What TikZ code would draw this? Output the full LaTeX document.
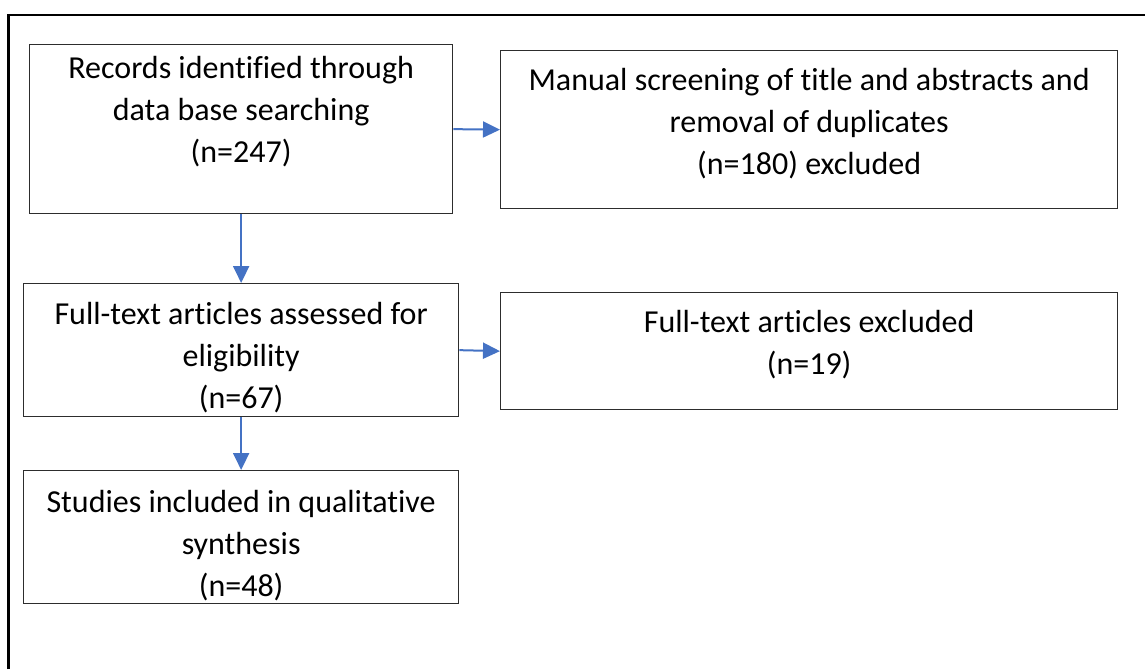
\documentclass[tikz,border=0pt]{standalone}
\usepackage{fontspec}
\setmainfont{Carlito}[Ligatures=NoCommon]
\usetikzlibrary{arrows.meta,positioning}
\definecolor{flowblue}{RGB}{68,114,196}
\definecolor{boxgray}{RGB}{45,45,45}
\tikzset{
  % outer frame
  frame/.style={line width=2.4pt, black},
  % box outline
  box/.style={
    draw=boxgray,
    line width=1.3pt,
    inner sep=0pt,
    anchor=north west
  },
  % text inside a box
  txt/.style={align=center, inner sep=0pt, font=\fontsize{32}{42}\selectfont},
  % connector
  arr/.style={-{Triangle[length=17pt,width=16pt]}, line width=2pt, flowblue},
}

\begin{document}
\begin{tikzpicture}[x=1pt, y=1pt]
    \useasboundingbox (0,0) rectangle (1145,-669);
    \draw[frame] (8.5,-669) |- (1145,-15);

    % left column
    \node[box, minimum width=423pt, minimum height=169pt] (records) at (29,-44) {};
    \node[box, minimum width=435pt, minimum height=133pt] (fulltext) at (23,-283) {};
    \node[box, minimum width=435pt, minimum height=133pt] (studies) at (23,-470) {};

    % right column
    \node[box, minimum width=617pt, minimum height=158pt] (screening) at (500,-50) {};
    \node[box, minimum width=617pt, minimum height=117pt] (excluded) at (500,-292) {};

    % texts
    \node[txt, below=12pt of records.north] (records-t) {Records identified through\\data base searching\\(n=247)};
    \node[txt, below=18pt of screening.north] (screening-t) {Manual screening of title and abstracts and\\removal of duplicates\\(n=180) excluded};
    \node[txt, below=19pt of fulltext.north] (fulltext-t) {Full-text articles assessed for\\eligibility\\(n=67)};
    \node[txt, below=18pt of excluded.north] (excluded-t) {Full-text articles excluded\\(n=19)};
    \node[txt, below=20pt of studies.north] (studies-t) {Studies included in qualitative\\synthesis\\(n=48)};

    % arrows
    \draw[arr] (records.east) -- (screening.west);
    \draw[arr] (records.south) -- (fulltext.north);
    \draw[arr] (fulltext.east) -- (excluded.west);
    \draw[arr] (fulltext.south) -- (studies.north);
\end{tikzpicture}
\end{document}
